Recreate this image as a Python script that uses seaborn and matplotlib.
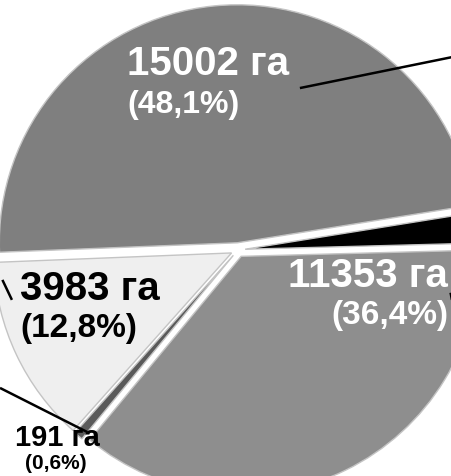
import matplotlib.pyplot as plt
import seaborn as sns

# slices, counter-clockwise from the right-hand black sliver
areas = [660, 15002, 3983, 191, 11353]
shares = ["2,1%", "48,1%", "12,8%", "0,6%", "36,4%"]
colors = ["#000000", "#7f7f7f", "#efefef", "#5a5a5a", "#8e8e8e"]

sns.set_theme(style="white")
plt.rcParams['font.family'] = ['Liberation Sans', 'DejaVu Sans']

fig = plt.figure(figsize=(4.52, 4.76), dpi=100)
ax = fig.add_axes([0, 0, 1, 1])

wedges, _ = ax.pie(areas, colors=colors, startangle=1.5, counterclock=True,
                   explode=[0.03] * len(areas), radius=1,
                   wedgeprops=dict(edgecolor="#c4c4c4", linewidth=1.0))

# only part of the original pie is visible
ax.set_xlim(-1.0, 0.899)
ax.set_ylim(-0.95, 1.05)
ax.set_aspect('equal')
ax.axis('off')

# labels: index, x, y line 1, y line 2, colour, size1, size2, alignment
labels = [
    (1, -0.466, 0.735, 0.575, "white", 29, 23, "left"),
    (4, 0.882, -0.155, -0.31, "white", 29, 24, "right"),
    (2, -0.916, -0.21, -0.365, "black", 29, 24, "left"),
    (3, -0.937, -0.825, -0.922, "black", 21, 15, "left"),
]
for i, x, y1, y2, c, s1, s2, ha in labels:
    ax.text(x, y1, f"{areas[i]} га", color=c, fontsize=s1, fontweight="bold",
            ha=ha, va="baseline")
    dx = 0.04 if s1 < 25 else 0
    ax.text(x + dx, y2, f"({shares[i]})", color=c, fontsize=s2,
            fontweight="bold", ha=ha, va="baseline")

# leader lines to labels outside the visible area
leaders = [
    ((0.26, 0.68), (0.899, 0.81)),
    ((-0.99, -0.126), (-0.95, -0.21)),
    ((-1.0, -0.58), (-0.634, -0.765)),
    ((0.893, -0.18), (0.899, -0.21)),
]
for (x0, y0), (x1, y1) in leaders:
    ax.plot([x0, x1], [y0, y1], color="black", lw=1.8, solid_capstyle="butt")

fig.savefig("out.png", dpi=100)
